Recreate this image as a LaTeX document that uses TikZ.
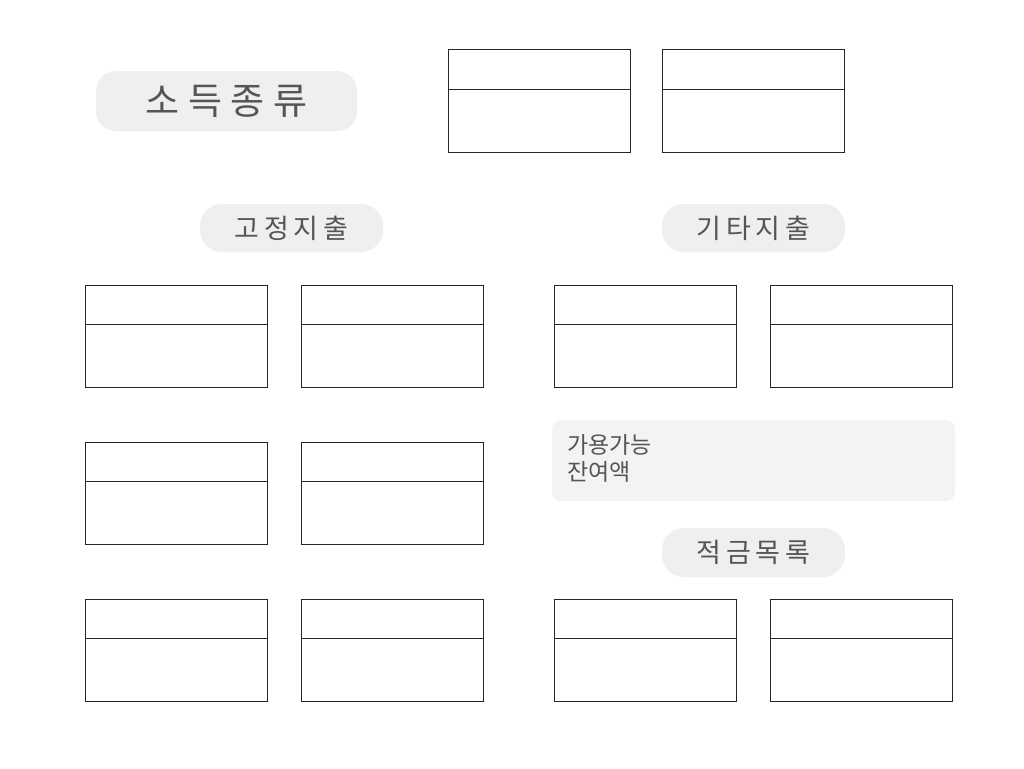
\documentclass[tikz,border=0pt]{standalone}
\usepackage{fontspec}
\newfontfamily\krtitle[LetterSpace=24]{Noto Sans CJK KR}
\newfontfamily\krhead[LetterSpace=18]{Noto Sans CJK KR}
\newfontfamily\kr{Noto Sans CJK KR}
\usetikzlibrary{calc}
\definecolor{pillfill}{HTML}{EFEFEF}
\definecolor{panelfill}{HTML}{F3F3F3}
\definecolor{txt}{HTML}{555555}
\tikzset{
  card/.style={draw=black!85, line width=1pt, fill=white, minimum width=182pt, minimum height=102pt, inner sep=0pt, outer sep=0pt, anchor=north west},
  pill/.style={fill=pillfill, rounded corners=20pt, inner sep=0pt, outer sep=0pt, text=txt},
  panel/.style={fill=panelfill, rounded corners=9pt, inner sep=0pt, outer sep=0pt, minimum width=403pt, minimum height=81pt, anchor=north west},
}
\newcommand{\divline}[1]{\draw[black!85, line width=1pt] ($(#1.north west)+(0,39)$) -- ($(#1.north east)+(0,39)$);}
\begin{document}
\begin{tikzpicture}[x=1pt,y=-1pt]
\useasboundingbox[fill=white] (0,0) rectangle (1024,768);
% pills
\node[pill, minimum width=261pt, minimum height=60pt] (income) at (226.5,101) {\krtitle\fontsize{37}{42}\selectfont 소득종류\hspace{-9pt}};
\node[pill, minimum width=183pt, minimum height=48pt, rounded corners=22pt] (fixed) at (291.5,228) {\krhead\fontsize{27}{32}\selectfont 고정지출\hspace{-5pt}};
\node[pill, minimum width=183pt, minimum height=48pt, rounded corners=22pt] (other) at (753.5,228) {\krhead\fontsize{27}{32}\selectfont 기타지출\hspace{-5pt}};
\node[pill, minimum width=183pt, minimum height=49pt, rounded corners=22pt] (saving) at (753.5,552.5) {\krhead\fontsize{27}{32}\selectfont 적금목록\hspace{-5pt}};
% panel
\node[panel] (avail) at (552,420) {};
\node[anchor=north west, inner sep=0pt, text=txt, align=left, font=\kr\fontsize{23}{27}\selectfont] (availtxt) at (567,434) {가용가능\\잔여액};
% cards
\foreach \n/\x/\y in {t1/448/50, t2/662/50,
  f1/85/285, f2/301/285, f3/85/442, f4/301/442, f5/85/599, f6/301/599,
  o1/554/285, o2/770/285, s1/554/599, s2/770/599}{
  \node[card] (\n) at (\x,\y) {};
  \divline{\n}
}
\end{tikzpicture}
\end{document}
